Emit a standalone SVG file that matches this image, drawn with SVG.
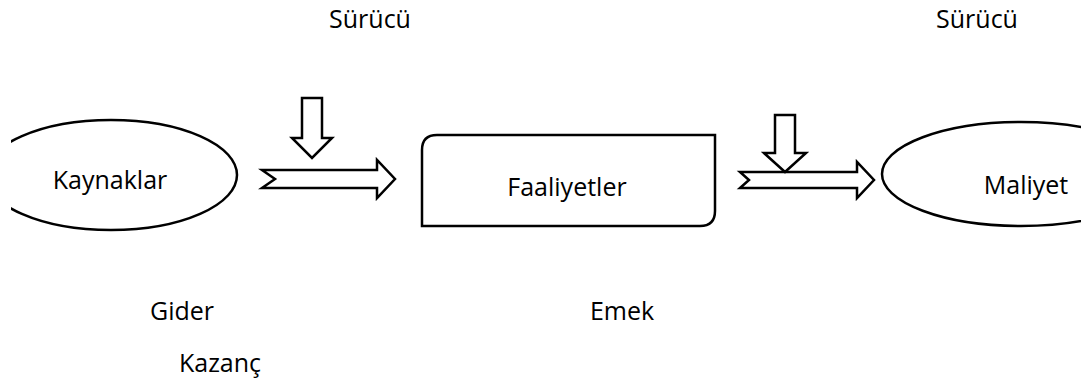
<svg xmlns="http://www.w3.org/2000/svg" width="1086" height="385" viewBox="0 0 1086 385">
<style>
.s{fill:#fff;stroke:#000;stroke-width:2.5;stroke-linejoin:miter}
.t{font-family:"Open Sans","Liberation Sans",sans-serif;font-size:25px;fill:#000;text-anchor:middle}
</style>
<defs>
<clipPath id="cl"><rect x="11" y="0" width="400" height="385"/></clipPath>
<clipPath id="cr"><rect x="700" y="0" width="381" height="385"/></clipPath>
</defs>
<rect width="1086" height="385" fill="#fff"/>
<g id="kaynaklar">
<ellipse class="s" cx="111" cy="175" rx="126" ry="55" clip-path="url(#cl)"/>
<text class="t" x="110" y="189">Kaynaklar</text>
</g>
<g id="faaliyetler">
<path class="s" d="M437,135 H715 V211 Q715,226 700,226 H422 V150 Q422,135 437,135 Z"/>
<text class="t" x="567" y="196">Faaliyetler</text>
</g>
<g id="maliyet">
<ellipse class="s" cx="1021" cy="174" rx="139" ry="52" clip-path="url(#cr)"/>
<text class="t" x="1026" y="194">Maliyet</text>
</g>
<g id="connectors">
<polygon class="s" points="262,170 377,170 377,160 395,179 377,198 377,188 262,188 275,179"/>
<polygon class="s" points="302,98 322,98 322,138 332,138 312,158 292,138 302,138"/>
<polygon class="s" points="740,172 857,172 857,162 874,180 857,198 857,188 740,188 749,180"/>
<polygon class="s" points="775,115 795,115 795,153 806,153 785,172 764,153 775,153"/>
</g>
<g id="labels">
<text class="t" x="370" y="28">Sürücü</text>
<text class="t" x="977" y="28">Sürücü</text>
<text class="t" x="182" y="320">Gider</text>
<text class="t" x="220" y="372">Kazanç</text>
<text class="t" x="622" y="320">Emek</text>
</g>
</svg>
